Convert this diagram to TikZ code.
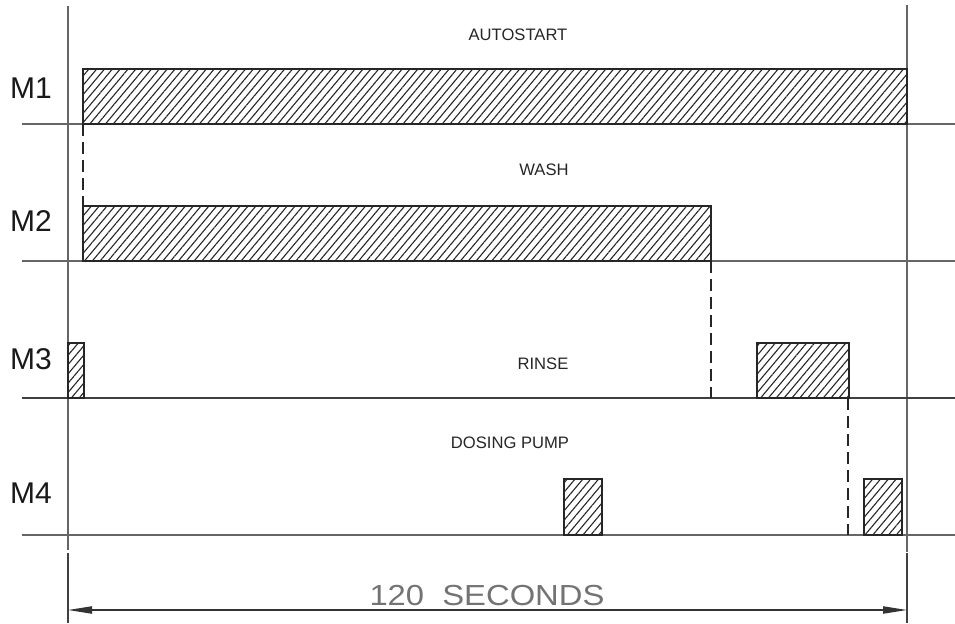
\documentclass[tikz,border=0pt]{standalone}
\usepackage{fontspec}
\setmainfont{Liberation Sans}
\usetikzlibrary{patterns.meta,arrows.meta}
\begin{document}
\begin{tikzpicture}[x=0.5pt,y=-0.5pt,
  guide/.style={draw=black!60,line width=0.8pt},
  ext/.style={draw=black!75,line width=0.8pt},
  bar/.style={draw=black!85,line width=0.55pt,
    pattern={Lines[angle=50,distance=3pt,line width=0.55pt]},pattern color=black!85},
  cut/.style={draw=black!85,line width=0.75pt,dash pattern=on 6pt off 3pt},
  rowlabel/.style={font=\fontsize{15}{15}\selectfont,text=black!90,inner sep=0pt},
  phase/.style={font=\fontsize{8.3}{8.3}\selectfont,text=black!85,inner sep=0pt},
  dim/.style={font=\fontsize{14.5}{14.5}\selectfont,text=black!55,inner sep=0pt}]
\useasboundingbox (0,0) rectangle (955,623);
% extension / frame lines
\coordinate (lt) at (68,6);   \coordinate (lb) at (68,550);
\coordinate (rt) at (907,5);  \coordinate (rb) at (907,552);
\coordinate (le) at (68,553); \coordinate (lee) at (68,623);
\coordinate (re) at (907,553); \coordinate (ree) at (907,623);
\draw[guide] (lt) -- (lb);
\draw[guide] (rt) -- (rb);
\draw[ext] (le) -- (lee);
\draw[ext] (re) -- (ree);
% baselines
\coordinate (b1l) at (22,124); \coordinate (b1r) at (955,124);
\coordinate (b2l) at (22,261); \coordinate (b2r) at (955,261);
\coordinate (b3l) at (22,398); \coordinate (b3r) at (955,398);
\coordinate (b4l) at (22,535); \coordinate (b4r) at (955,535);
\draw[guide] (b1l) -- (b1r);
\draw[guide] (b2l) -- (b2r);
\draw[ext] (b3l) -- (b3r);
\draw[guide] (b4l) -- (b4r);
% bars
\coordinate (m1a) at (83,69);  \coordinate (m1b) at (907,124);
\coordinate (m2a) at (83,206); \coordinate (m2b) at (711,261);
\coordinate (m3a) at (68,343); \coordinate (m3b) at (84,398);
\coordinate (m3c) at (757,343); \coordinate (m3d) at (849,398);
\coordinate (m4a) at (564,479); \coordinate (m4b) at (602,535);
\coordinate (m4c) at (864,479); \coordinate (m4d) at (902,535);
\draw[bar] (m1a) rectangle (m1b);
\draw[bar] (m2a) rectangle (m2b);
\draw[bar] (m3a) rectangle (m3b);
\draw[bar] (m3c) rectangle (m3d);
\draw[bar] (m4a) rectangle (m4b);
\draw[bar] (m4c) rectangle (m4d);
% dashed transitions
\coordinate (d1a) at (83,124); \coordinate (d1b) at (83,206);
\coordinate (d2a) at (711,261); \coordinate (d2b) at (711,398);
\coordinate (d3a) at (848,398); \coordinate (d3b) at (848,535);
\draw[cut] (d1a) -- (d1b);
\draw[cut] (d2a) -- (d2b);
\draw[cut] (d3a) -- (d3b);
% row labels
\node[rowlabel] (lm1) at (31,88) {M1};
\node[rowlabel] (lm2) at (31,221) {M2};
\node[rowlabel] (lm3) at (31,359) {M3};
\node[rowlabel] (lm4) at (31,493) {M4};
% phase labels
\node[phase] (p1) at (518,35) {AUTOSTART};
\node[phase] (p2) at (544,170) {WASH};
\node[phase] (p3) at (543,364) {RINSE};
\node[phase] (p4) at (510,443) {DOSING PUMP};
% dimension
\coordinate (al) at (68,610); \coordinate (ar) at (907,610);
\draw[draw=black!80,line width=0.7pt,{Triangle[length=12pt,width=3.6pt]}-{Triangle[length=12pt,width=3.6pt]}] (al) -- (ar);
\node[dim,anchor=south] (sec) at (487,606) {\scalebox{1.13}[1]{120\ \ SECONDS}};
\end{tikzpicture}
\end{document}
